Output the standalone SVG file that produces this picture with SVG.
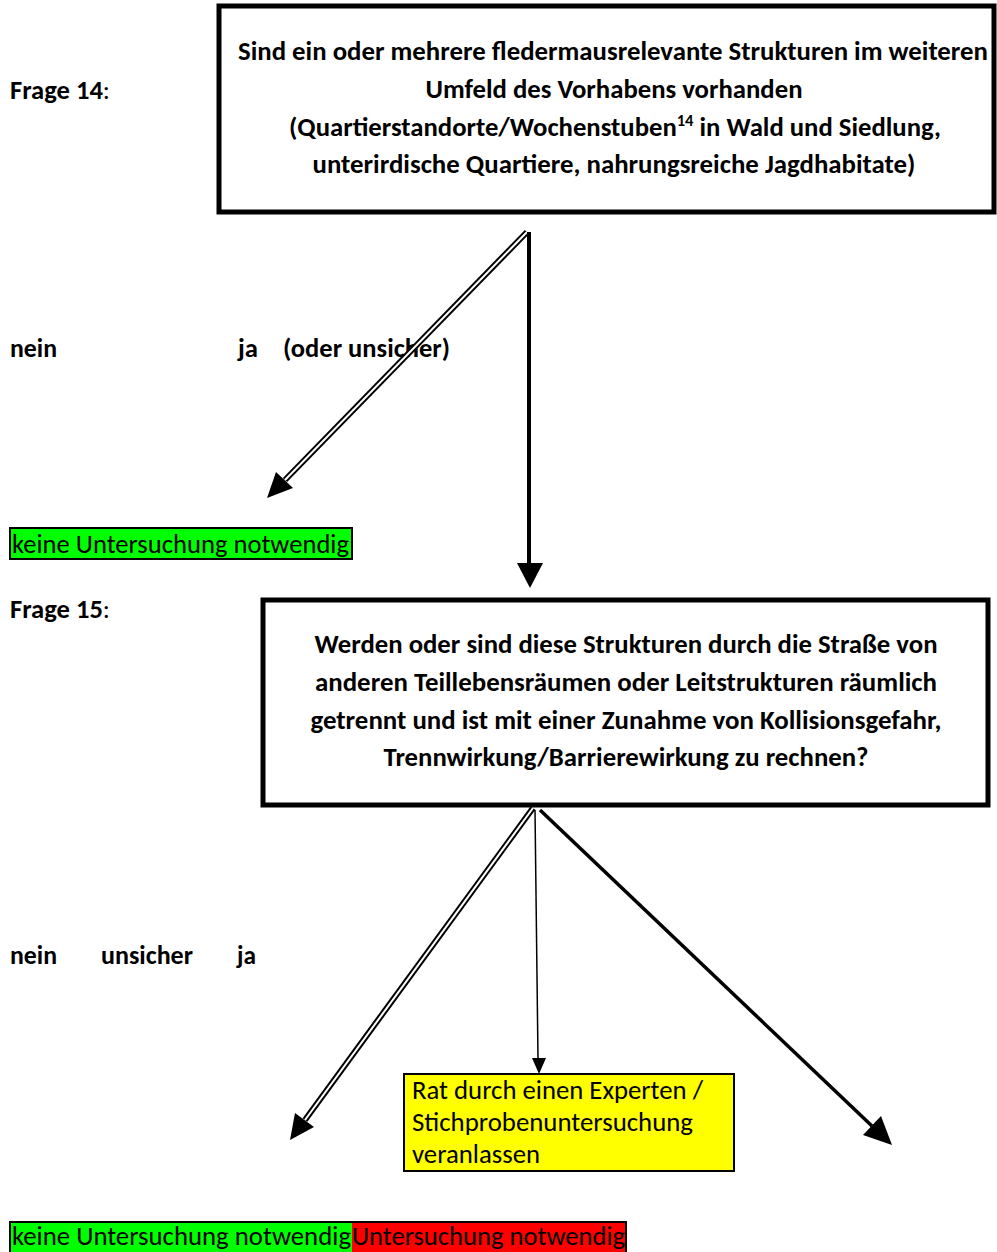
<svg xmlns="http://www.w3.org/2000/svg" width="997" height="1252" viewBox="0 0 997 1252">
<style>
.bx{fill:#fff;stroke:#000;stroke-width:5}
.t{font-family:Carlito,"Liberation Sans",Arial,sans-serif;fill:#000}
.b{font-weight:bold;font-size:26px}
.lb{font-weight:bold;font-size:26px}
.n{font-size:27px}
.y{font-size:27px}
.ln{stroke:#000;fill:none}
.hd{fill:#000;stroke:none}
</style>
<rect width="997" height="1252" fill="#fff"/>
<g id="label-frage14">
<text class="t lb" x="10" y="99" textLength="100" lengthAdjust="spacingAndGlyphs"><tspan>Frage 14</tspan><tspan font-weight="normal">:</tspan></text>
</g>
<g id="q14">
<rect class="bx" x="219" y="6" width="775" height="206"/>
<text class="t b" x="613" y="60" text-anchor="middle" textLength="750" lengthAdjust="spacingAndGlyphs">Sind ein oder mehrere fledermausrelevante Strukturen im weiteren</text>
<text class="t b" x="614" y="98" text-anchor="middle" textLength="377" lengthAdjust="spacingAndGlyphs">Umfeld des Vorhabens vorhanden</text>
<text class="t b" x="615" y="136" text-anchor="middle" textLength="652" lengthAdjust="spacingAndGlyphs">(Quartierstandorte/Wochenstuben<tspan font-size="16" dy="-10">14</tspan><tspan dy="10"> in Wald und Siedlung,</tspan></text>
<text class="t b" x="614" y="173" text-anchor="middle" textLength="603" lengthAdjust="spacingAndGlyphs">unterirdische Quartiere, nahrungsreiche Jagdhabitate)</text>
</g>
<g id="labels-q14">
<text class="t lb" x="10" y="357" textLength="47" lengthAdjust="spacingAndGlyphs">nein</text>
<text class="t lb" x="238" y="357" textLength="20" lengthAdjust="spacingAndGlyphs">ja</text>
<text class="t lb" x="283" y="357" textLength="167" lengthAdjust="spacingAndGlyphs">(oder unsicher)</text>
</g>
<g id="result-keine1">
<rect x="10" y="528" width="342" height="31" fill="#00ff00" stroke="#000" stroke-width="2"/>
<text class="t n" x="12" y="553" textLength="337" lengthAdjust="spacingAndGlyphs">keine Untersuchung notwendig</text>
</g>
<g id="label-frage15">
<text class="t lb" x="10" y="618" textLength="100" lengthAdjust="spacingAndGlyphs"><tspan>Frage 15</tspan><tspan font-weight="normal">:</tspan></text>
</g>
<g id="q15">
<rect class="bx" x="263" y="600" width="725" height="205"/>
<text class="t b" x="626" y="653" text-anchor="middle" textLength="623" lengthAdjust="spacingAndGlyphs">Werden oder sind diese Strukturen durch die Straße von</text>
<text class="t b" x="626" y="691" text-anchor="middle" textLength="622" lengthAdjust="spacingAndGlyphs">anderen Teillebensräumen oder Leitstrukturen räumlich</text>
<text class="t b" x="626" y="729" text-anchor="middle" textLength="631" lengthAdjust="spacingAndGlyphs">getrennt und ist mit einer Zunahme von Kollisionsgefahr,</text>
<text class="t b" x="626" y="766" text-anchor="middle" textLength="485" lengthAdjust="spacingAndGlyphs">Trennwirkung/Barrierewirkung zu rechnen?</text>
</g>
<g id="labels-q15">
<text class="t lb" x="10" y="964" textLength="47" lengthAdjust="spacingAndGlyphs">nein</text>
<text class="t lb" x="101" y="964" textLength="92" lengthAdjust="spacingAndGlyphs">unsicher</text>
<text class="t lb" x="237" y="964" textLength="19" lengthAdjust="spacingAndGlyphs">ja</text>
</g>
<g id="result-experte">
<rect x="404" y="1074" width="330" height="97" fill="#ffff00" stroke="#000" stroke-width="2"/>
<text class="t y" x="412" y="1099" textLength="291" lengthAdjust="spacingAndGlyphs">Rat durch einen Experten /</text>
<text class="t y" x="412" y="1131" textLength="281" lengthAdjust="spacingAndGlyphs">Stichprobenuntersuchung</text>
<text class="t y" x="412" y="1163" textLength="128" lengthAdjust="spacingAndGlyphs">veranlassen</text>
</g>
<g id="result-bottom">
<rect x="10" y="1222" width="342" height="32" fill="#00ff00"/>
<rect x="352" y="1222" width="274" height="32" fill="#ff0000"/>
<rect x="10" y="1222" width="616" height="32" fill="none" stroke="#000" stroke-width="2"/>
<text class="t n" x="12" y="1245" textLength="339" lengthAdjust="spacingAndGlyphs">keine Untersuchung notwendig</text>
<text class="t n" x="352" y="1245" textLength="273" lengthAdjust="spacingAndGlyphs">Untersuchung notwendig</text>
</g>
<g id="connectors">
<path class="ln" d="M527,232 L285,480" stroke-width="6"/>
<path d="M527,232 L285,480" stroke="#fff" stroke-width="2" fill="none"/>
<polygon class="hd" points="267,498 276,472 293,488"/>
<path class="ln" d="M529,232 L529,564" stroke-width="4"/>
<polygon class="hd" points="517,563 543,563 530,588"/>
<path class="ln" d="M533,808 L305,1120" stroke-width="6"/>
<path d="M533,808 L305,1120" stroke="#fff" stroke-width="2" fill="none"/>
<polygon class="hd" points="290,1140 295,1113 314,1127"/>
<path class="ln" d="M535,810 L538,1059" stroke-width="1.5"/>
<polygon class="hd" points="532,1058 546,1058 539,1074"/>
<path class="ln" d="M540,810 L872,1126" stroke-width="3.5"/>
<polygon class="hd" points="892,1145 863,1135 881,1116"/>
</g>
</svg>
